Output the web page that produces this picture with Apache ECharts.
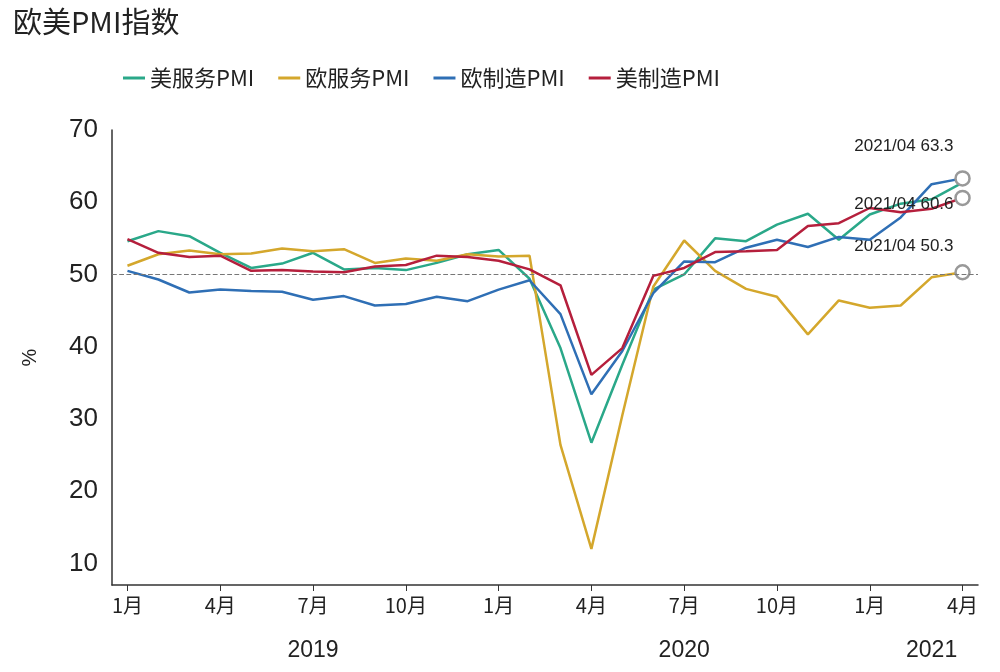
<!DOCTYPE html>
<html>
<head>
<meta charset="utf-8">
<script src="https://cdn.jsdelivr.net/npm/echarts@6/dist/echarts.min.js"></script>
<style>html,body{margin:0;background:#fff}#chart{width:1000px;height:672px}</style>
</head>
<body>
<div id="chart"></div>
<script>
// monthly, 2019/01 .. 2021/04
var months = [];
for (var y = 2019; y <= 2021; y++) {
    for (var m = 1; m <= 12; m++) {
        if (y === 2021 && m > 4) break;
        months.push(y + "/" + (m < 10 ? "0" + m : m));
    }
}
var usServices = [54.6, 56.0, 55.3, 53.0, 50.9, 51.5, 53.0, 50.7, 50.9, 50.6, 51.6, 52.8,
    53.4, 49.4, 39.8, 26.7, 37.5, 47.9, 50.0, 55.0, 54.6, 56.9, 58.4, 54.8, 58.3, 59.8, 60.4, 62.7];
var euServices = [51.2, 52.8, 53.3, 52.8, 52.9, 53.6, 53.2, 53.5, 51.6, 52.2, 51.9, 52.8,
    52.5, 52.6, 26.4, 12.0, 30.5, 48.3, 54.7, 50.5, 48.0, 46.9, 41.7, 46.4, 45.4, 45.7, 49.6, 50.3];
var euMfg = [50.5, 49.3, 47.5, 47.9, 47.7, 47.6, 46.5, 47.0, 45.7, 45.9, 46.9, 46.3,
    47.9, 49.2, 44.5, 33.4, 39.4, 47.4, 51.8, 51.7, 53.7, 54.8, 53.8, 55.2, 54.8, 57.9, 62.5, 63.3];
var usMfg = [54.9, 53.0, 52.4, 52.6, 50.5, 50.6, 50.4, 50.3, 51.1, 51.3, 52.6, 52.4,
    51.9, 50.7, 48.5, 36.1, 39.8, 49.8, 50.9, 53.1, 53.2, 53.4, 56.7, 57.1, 59.2, 58.6, 59.1, 60.6];
var yTicks = [10, 20, 30, 40, 50, 60, 70];
var yearLabels = {6: "2019", 18: "2020", 26: "2021"};

var font = "'Noto Sans CJK SC', sans-serif";

function withEnd(values, labelPos) {
    return values.map(function (v, i) {
        if (i !== values.length - 1 || !labelPos) return v;
        return {
            value: v,
            symbol: "circle",
            symbolSize: 14,
            itemStyle: { color: "#fff", borderColor: "#999", borderWidth: 2.5 },
            label: {
                show: true, position: labelPos, color: "#222", fontSize: 17,
                fontFamily: "Liberation Sans, Arial",
                formatter: months[i] + " " + v.toFixed(1)
            }
        };
    });
}

function line(name, color, values, labelPos, z) {
    return {
        name: name, type: "line", data: withEnd(values, labelPos), z: z,
        symbol: "none", showSymbol: true, animation: false,
        lineStyle: { color: color, width: 2.5 }, itemStyle: { color: color }
    };
}

var series = [
    line("美服务PMI", "#2aa889", usServices, null, 2),
    line("欧服务PMI", "#d4a72c", euServices, [-100, -26], 3),
    line("欧制造PMI", "#2f6fb5", euMfg, [-100, -32], 4),
    line("美制造PMI", "#b51f3c", usMfg, [-100, 6], 5)
];
series[0].markLine = {
    silent: true, symbol: "none", label: { show: false },
    lineStyle: { color: "#777", type: "dashed", width: 1.2 },
    data: [{ yAxis: 50 }]
};

var chart = echarts.init(document.getElementById("chart"));
chart.setOption({
    title: {
        text: "欧美PMI指数", left: 8, top: 2,
        textStyle: { fontFamily: font, fontSize: 29, fontWeight: "normal", color: "#222" }
    },
    legend: {
        top: 62, left: 118, itemWidth: 22, itemHeight: 3, itemGap: 24, icon: "rect",
        textStyle: { fontFamily: font, fontSize: 22, color: "#222" },
        data: ["美服务PMI", "欧服务PMI", "欧制造PMI", "美制造PMI"]
    },
    grid: { left: 112, right: 22, top: 130, bottom: 87 },
    xAxis: [{
        type: "category", data: months, boundaryGap: true,
        axisLine: { lineStyle: { color: "#333", width: 1.5 } },
        axisTick: { show: true, interval: 2, alignWithLabel: true, length: 6, lineStyle: { color: "#333" } },
        axisLabel: {
            interval: 2, color: "#222", fontSize: 20, fontFamily: font, margin: 10,
            formatter: function (v) { return parseInt(v.split("/")[1], 10) + "月"; }
        }
    }, {
        type: "category", data: months, position: "bottom", offset: 46,
        axisLine: { show: false }, axisTick: { show: false },
        axisLabel: {
            color: "#222", fontSize: 23, fontFamily: "Liberation Sans, Arial",
            interval: function (i) { return yearLabels[i] !== undefined; },
            formatter: function (v, i) { return yearLabels[i] || ""; }
        }
    }],
    yAxis: {
        type: "value", min: 7, max: 70, name: "%",
        nameLocation: "middle", nameGap: 72, nameRotate: 90,
        nameTextStyle: { fontSize: 20, color: "#222", fontFamily: "Liberation Sans, Arial" },
        axisLine: { show: true, lineStyle: { color: "#333", width: 1.5 } },
        axisTick: { show: false },
        splitLine: { show: false },
        axisLabel: {
            customValues: yTicks,
            fontSize: 26, color: "#222", fontFamily: "Liberation Sans, Arial", margin: 14
        }
    },
    series: series
});
</script>
</body>
</html>
